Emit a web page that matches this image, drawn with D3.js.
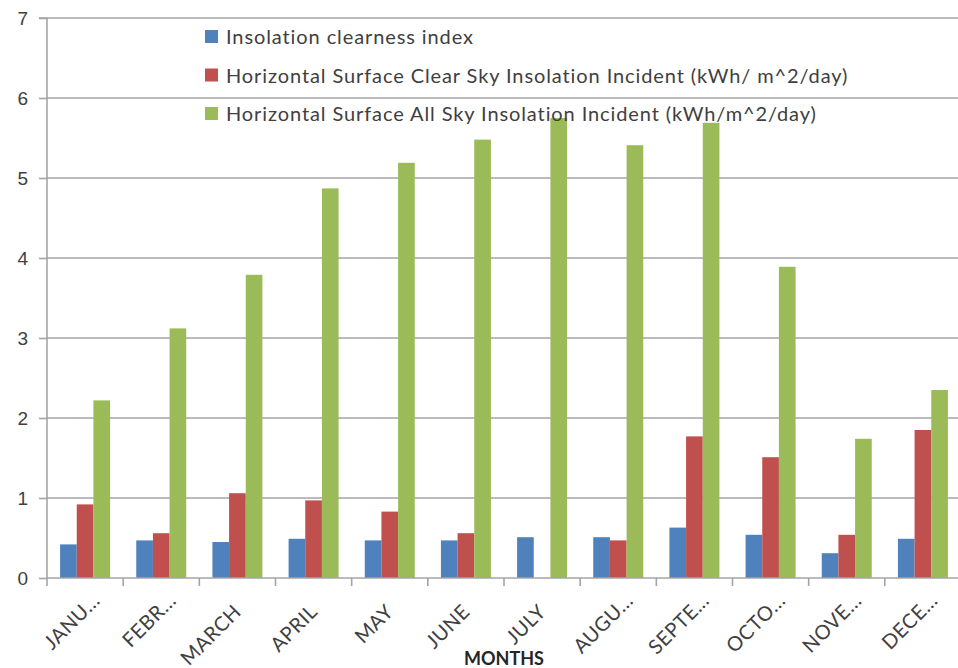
<!DOCTYPE html>
<html>
<head>
<meta charset="utf-8">
<script src="https://cdn.jsdelivr.net/npm/d3@7"></script>
<style>
  html, body { margin: 0; padding: 0; background: #fff; }
  svg { display: block; font-family: Lato, "Open Sans", sans-serif; }
</style>
</head>
<body>
<svg id="chart" width="958" height="668"></svg>
<script>
// Month labels (truncated as on the axis)
const months = ["JANU...", "FEBR...", "MARCH", "APRIL", "MAY", "JUNE",
                "JULY", "AUGU...", "SEPTE...", "OCTO...", "NOVE...", "DECE..."];

const seriesNames = [
  "Insolation clearness index",
  "Horizontal Surface Clear Sky Insolation Incident (kWh/ m^2/day)",
  "Horizontal Surface All Sky Insolation Incident (kWh/m^2/day)"
];

const clearnessIndex = [0.42, 0.47, 0.45, 0.49, 0.47, 0.47, 0.51, 0.51, 0.63, 0.54, 0.31, 0.49];
const clearSky       = [0.92, 0.56, 1.06, 0.97, 0.83, 0.56, 0.00, 0.47, 1.77, 1.51, 0.54, 1.85];
const allSky         = [2.22, 3.12, 3.79, 4.87, 5.19, 5.48, 5.75, 5.41, 5.69, 3.89, 1.74, 2.35];

const yTicks = [0, 1, 2, 3, 4, 5, 6, 7];
const colors = ["#4f81bd", "#c0504d", "#9bbb59"];
const xTitle = "MONTHS";

const seriesValues = [clearnessIndex, clearSky, allSky];

const svg = d3.select("#chart");
const plotLeft = 47, plotRight = 961, plotTop = 18, plotBottom = 578;
const gridColor = "#a5a5a8";
const textColor = "#404040";

const y = d3.scaleLinear().domain([0, 7]).range([plotBottom, plotTop]);

const x0 = d3.scaleBand().domain(months).range([plotLeft, plotRight])
  .paddingInner(0.3436).paddingOuter(0.1718);
const x1 = d3.scaleBand().domain(d3.range(seriesNames.length))
  .range([0, x0.bandwidth()]);
const step = x0.step();
const halfGap = (step - x0.bandwidth()) / 2;

// Horizontal gridlines
svg.append("g").selectAll("line").data(yTicks.filter(t => t > 0)).join("line")
  .attr("x1", plotLeft).attr("x2", 958)
  .attr("y1", d => y(d)).attr("y2", d => y(d))
  .attr("stroke", gridColor).attr("stroke-width", 1.6);

// Bars
const groups = svg.append("g").selectAll("g").data(months).join("g")
  .attr("transform", d => `translate(${x0(d)},0)`);
groups.selectAll("rect")
  .data((m, i) => seriesValues.map((vals, s) => ({ s, v: vals[i] })))
  .join("rect")
  .attr("x", d => x1(d.s))
  .attr("width", x1.bandwidth())
  .attr("y", d => y(d.v))
  .attr("height", d => y(0) - y(d.v))
  .attr("fill", d => colors[d.s]);

// Y axis
const yAxis = d3.axisLeft(y).tickValues(yTicks).tickSize(8).tickPadding(11)
  .tickFormat(d3.format("d"));
const gy = svg.append("g").attr("transform", `translate(${plotLeft},0)`).call(yAxis);
gy.select(".domain").attr("stroke", gridColor).attr("stroke-width", 1.6)
  .attr("d", `M-8,${plotTop}H0V${plotBottom}`);
gy.selectAll(".tick line").attr("stroke", gridColor).attr("stroke-width", 1.6);
gy.selectAll(".tick text").attr("fill", textColor)
  .style("font-size", "19px").attr("dy", "0.36em");

// X axis baseline and category boundary ticks
svg.append("line").attr("x1", plotLeft).attr("x2", 958)
  .attr("y1", plotBottom).attr("y2", plotBottom)
  .attr("stroke", gridColor).attr("stroke-width", 1.6);
const boundaries = months.map(m => x0(m) - halfGap);
svg.append("g").selectAll("line").data(boundaries).join("line")
  .attr("x1", d => d).attr("x2", d => d)
  .attr("y1", plotBottom).attr("y2", plotBottom + 8)
  .attr("stroke", gridColor).attr("stroke-width", 1.6);

// Rotated month labels; a trailing ellipsis hangs past the anchor point
const labelFont = { size: "20px", spacing: "0.5px" };
const probe = svg.append("text").style("font-size", labelFont.size)
  .style("letter-spacing", labelFont.spacing).text("...");
const ellipsisW = probe.node().getComputedTextLength();
probe.remove();

svg.append("g").selectAll("text").data(months).join("text")
  .attr("transform", d => `translate(${x0(d) + x0.bandwidth() / 2 + 5},${plotBottom + 35}) rotate(-45)`)
  .attr("text-anchor", "end")
  .attr("dx", d => d.endsWith("...") ? ellipsisW : 0)
  .attr("fill", textColor)
  .style("font-size", labelFont.size)
  .style("letter-spacing", labelFont.spacing)
  .text(d => d);

// Axis title
svg.append("text")
  .attr("x", 504).attr("y", 665)
  .attr("text-anchor", "middle")
  .attr("fill", "#262626")
  .style("font-size", "18px").style("font-weight", "bold")
  .text(xTitle);

// Legend
const legend = svg.append("g").selectAll("g").data(seriesNames).join("g")
  .attr("transform", (d, i) => `translate(205,${37 + i * 38.5})`);
legend.append("rect")
  .attr("x", 0).attr("y", -7).attr("width", 13).attr("height", 13)
  .attr("fill", (d, i) => colors[i]);
legend.append("text")
  .attr("x", 21).attr("y", 0).attr("dy", "0.35em")
  .attr("fill", textColor)
  .style("font-size", "20px")
  .style("letter-spacing", "0.9px")
  .text(d => d);
</script>
</body>
</html>
